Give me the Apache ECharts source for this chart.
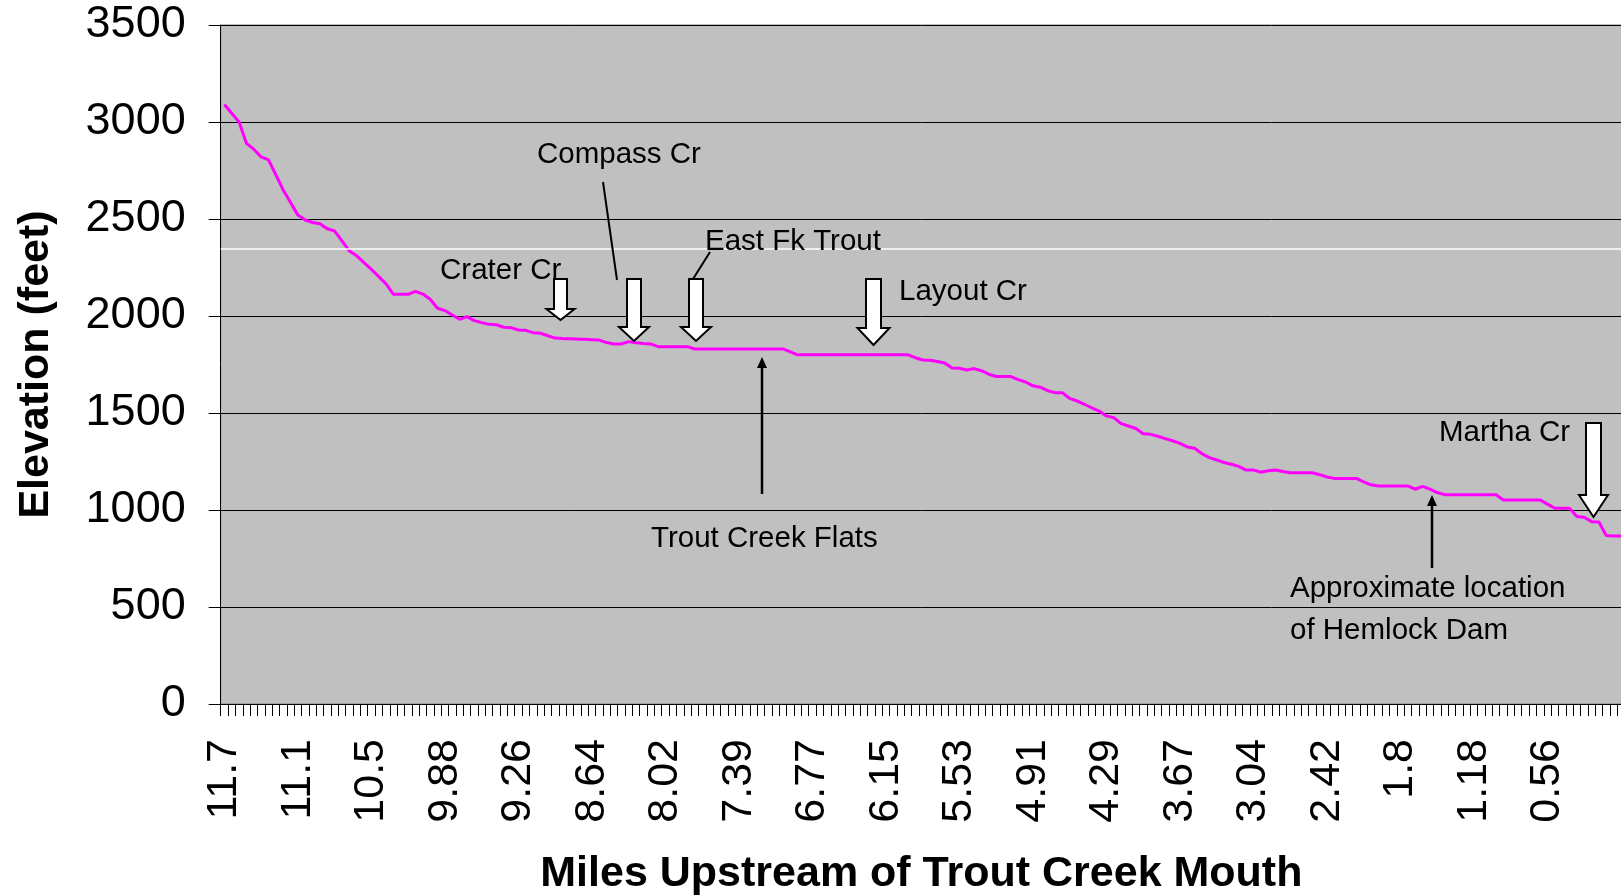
<!DOCTYPE html>
<html>
<head>
<meta charset="utf-8">
<script src="https://cdn.jsdelivr.net/npm/echarts@6/dist/echarts.min.js"></script>
<style>
  html, body { margin: 0; background: #fff; }
  #main { width: 1621px; height: 896px; }
</style>
</head>
<body>
<div id="main"></div>
<script>
// miles upstream, labelled on every 10th station
const mileLabels = ['11.7', '11.1', '10.5', '9.88', '9.26', '8.64', '8.02', '7.39', '6.77', '6.15',
  '5.53', '4.91', '4.29', '3.67', '3.04', '2.42', '1.8', '1.18', '0.56'];

// elevation (feet) at each station
const elevation = [
  3090, 3045, 3000, 2890, 2860, 2820, 2805, 2728, 2650, 2585,
  2520, 2495, 2482, 2476, 2450, 2438, 2387, 2335, 2310, 2275,
  2240, 2203, 2165, 2112, 2112, 2112, 2127, 2113, 2086, 2040,
  2028, 2005, 1983, 1997, 1976, 1966, 1957, 1955, 1942, 1940,
  1928, 1926, 1914, 1911, 1898, 1886, 1884, 1883, 1881, 1880,
  1878, 1876, 1863, 1856, 1856, 1868, 1862, 1858, 1856, 1842,
  1842, 1842, 1842, 1842, 1830, 1830, 1830, 1830, 1830, 1830,
  1830, 1830, 1830, 1830, 1830, 1830, 1830, 1815, 1800, 1800,
  1800, 1800, 1800, 1800, 1800, 1800, 1800, 1800, 1800, 1800,
  1800, 1800, 1800, 1800, 1785, 1773, 1772, 1765, 1758, 1732,
  1731, 1722, 1729, 1718, 1700, 1688, 1688, 1688, 1672, 1660,
  1640, 1633, 1615, 1605, 1605, 1575, 1562, 1545, 1527, 1510,
  1485, 1476, 1445, 1433, 1420, 1393, 1390, 1380, 1368, 1357,
  1343, 1325, 1318, 1290, 1270, 1258, 1245, 1236, 1225, 1206,
  1206, 1195, 1202, 1206, 1198, 1192, 1192, 1192, 1192, 1182,
  1170, 1163, 1163, 1163, 1163, 1145, 1130, 1124, 1124, 1124,
  1124, 1124, 1107, 1122, 1108, 1090, 1079, 1079, 1079, 1079,
  1079, 1079, 1079, 1079, 1052, 1052, 1052, 1052, 1052, 1052,
  1030, 1009, 1009, 1009, 966, 963, 940, 938, 868, 866,
  866, 866
];

const yTicks = [0, 500, 1000, 1500, 2000, 2500, 3000, 3500];

// odd white line crossing the plot in the original
const whiteLineLevel = 2345;

const stations = elevation.map((v, i) => String(i));

const FONT = '"Liberation Sans", Arial, sans-serif';

// block arrows: cx, top, head start, tip, shaft half width, head half width
const blockArrows = [
  [560.5, 279, 309, 320, 6.5, 14],   // Crater Cr
  [634, 279, 327, 341, 7, 15],       // Compass Cr
  [696, 279, 327, 341, 7, 15],       // East Fk Trout
  [873.5, 279, 328, 345, 7.5, 16],   // Layout Cr
  [1593.5, 423, 495, 517, 7.5, 14.5] // Martha Cr
];

const labels = [
  ['Compass Cr', 537, 155],
  ['Crater Cr', 440, 271],
  ['East Fk Trout', 705, 242],
  ['Layout Cr', 899, 292],
  ['Trout Creek Flats', 651, 539],
  ['Martha Cr', 1439, 433],
  ['Approximate location', 1290, 589],
  ['of Hemlock Dam', 1290, 631]
];

const graphics = [];
blockArrows.forEach(a => {
  const [cx, top, hy, tip, sw, hw] = a;
  graphics.push({
    type: 'polygon', z: 100,
    shape: { points: [[cx - sw, top], [cx + sw, top], [cx + sw, hy], [cx + hw, hy], [cx, tip], [cx - hw, hy], [cx - sw, hy]] },
    style: { fill: '#fff', stroke: '#000', lineWidth: 2 }
  });
});
labels.forEach(l => {
  graphics.push({
    type: 'text', z: 100, x: l[1], y: l[2],
    style: { text: l[0], font: '29.5px ' + FONT, fill: '#000', align: 'left', verticalAlign: 'middle' }
  });
});
// leader lines
graphics.push({ type: 'line', z: 100, shape: { x1: 603, y1: 182, x2: 617, y2: 280 }, style: { stroke: '#000', lineWidth: 2 } });
graphics.push({ type: 'line', z: 100, shape: { x1: 710, y1: 252, x2: 693, y2: 279 }, style: { stroke: '#000', lineWidth: 2 } });
// thin pointer arrows
[[762, 494, 357], [1432, 568, 495]].forEach(p => {
  const [x, y0, y1] = p;
  graphics.push({ type: 'line', z: 100, shape: { x1: x, y1: y0, x2: x, y2: y1 + 8 }, style: { stroke: '#000', lineWidth: 2.5 } });
  graphics.push({ type: 'polygon', z: 100, shape: { points: [[x - 5, y1 + 11], [x, y1], [x + 5, y1 + 11]] }, style: { fill: '#000' } });
});

const chart = echarts.init(document.getElementById('main'));
chart.setOption({
  animation: false,
  grid: {
    left: 220.7, top: 25, bottom: 192, right: -11,
    outerBoundsMode: 'none',
    show: true, backgroundColor: '#c0c0c0', borderColor: '#808080', borderWidth: 1
  },
  xAxis: {
    type: 'category',
    data: stations,
    boundaryGap: true,
    name: 'Miles Upstream of Trout Creek Mouth',
    nameLocation: 'middle',
    nameGap: 170,
    nameTextStyle: {
      fontFamily: FONT, fontSize: 43, fontWeight: 'bold', color: '#000',
      verticalAlign: 'middle', padding: [0, 10, 0, 0]
    },
    axisLine: { lineStyle: { color: '#000', width: 1 } },
    axisTick: { show: true, interval: 0, length: 12, lineStyle: { color: '#000', width: 1 } },
    axisLabel: {
      interval: 9, rotate: 90, margin: 35,
      fontFamily: FONT, fontSize: 43, color: '#000',
      formatter: (v, i) => (i % 10 === 0 && mileLabels[i / 10]) ? mileLabels[i / 10] : ''
    },
    splitLine: { show: false }
  },
  yAxis: {
    type: 'value',
    min: yTicks[0], max: yTicks[yTicks.length - 1], interval: 500,
    name: 'Elevation (feet)',
    nameLocation: 'middle',
    nameGap: 185,
    nameRotate: 90,
    nameTextStyle: { fontFamily: FONT, fontSize: 43, fontWeight: 'bold', color: '#000', verticalAlign: 'middle' },
    axisLine: { show: true, lineStyle: { color: '#000', width: 1 } },
    axisTick: { show: true, length: 12, lineStyle: { color: '#000' } },
    axisLabel: { margin: 35, fontFamily: FONT, fontSize: 45, color: '#000', formatter: v => String(v) },
    splitLine: { show: true, lineStyle: { color: '#000', width: 1 } }
  },
  series: [{
    type: 'line',
    data: elevation,
    symbol: 'none',
    lineStyle: { color: '#ff00ff', width: 3 },
    markLine: {
      silent: true, symbol: 'none', label: { show: false },
      lineStyle: { color: '#fff', width: 1.5, type: 'solid' },
      data: [{ yAxis: whiteLineLevel }]
    }
  }],
  graphic: graphics
});
</script>
</body>
</html>
